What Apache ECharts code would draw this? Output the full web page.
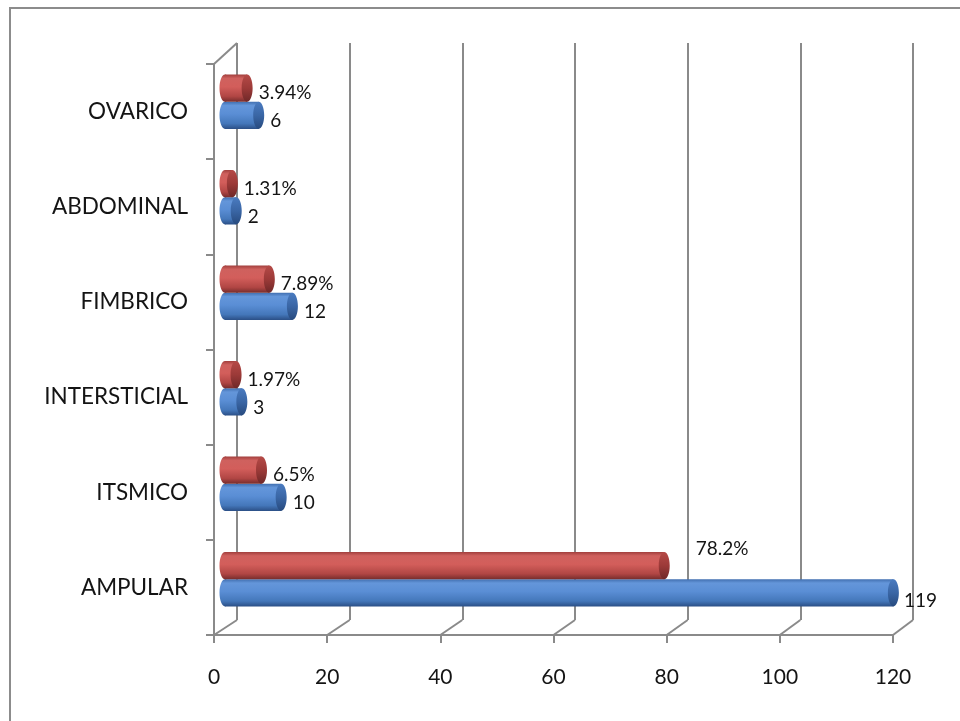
<!DOCTYPE html>
<html>
<head>
<meta charset="utf-8">
<title>Localización</title>
<script src="https://cdn.jsdelivr.net/npm/echarts@6/dist/echarts.min.js"></script>
<style>
  html, body { margin: 0; padding: 0; background: #ffffff; }
  #chart { width: 960px; height: 721px; }
</style>
</head>
<body>
<div id="chart"></div>
<script>
// Categories listed bottom to top on the vertical axis
const categories = ['AMPULAR', 'ITSMICO', 'INTERSTICIAL', 'FIMBRICO', 'ABDOMINAL', 'OVARICO'];
// Number of cases per location
const casos = [119, 10, 3, 12, 2, 6];
// Share of cases per location, in percent
const porcentajes = [78.2, 6.5, 1.97, 7.89, 1.31, 3.94];
// Value axis ticks
const xTicks = [0, 20, 40, 60, 80, 100, 120];

const AXIS_MIN = xTicks[0];
const AXIS_MAX = xTicks[xTicks.length - 1];
const AXIS_STEP = xTicks[1] - xTicks[0];

// Layout of the three planes of the pseudo-3D box
const FRONT = { left: 214, top: 64, width: 679, height: 571 };
const BACK = { left: 237, top: 43, width: 676, height: 577 };
const MID = { left: 225, top: 54, width: 674, height: 573 };

const GRID_COLOR = '#8a8a8a';
const TEXT_COLOR = '#141414';
const FONT = 'Lato, "Open Sans", sans-serif';

const BAR_RATIO = 0.285;   // bar thickness relative to a category band
const CAP_RX = 5.5;        // horizontal radius of the cylinder ends

const redBody = [
  [0, '#a23f3d'], [0.14, '#cf615e'], [0.45, '#d35e5b'], [0.8, '#b14644'], [1, '#772d2c']
];
const blueBody = [
  [0, '#416fb0'], [0.14, '#6496da'], [0.45, '#5a8ed5'], [0.8, '#4477ba'], [1, '#2b4f86']
];
const redCap = [[0, '#b54a47'], [0.5, '#9c3a38'], [1, '#6f2828']];
const blueCap = [[0, '#4a7bc0'], [0.5, '#3a66a5'], [1, '#274a7e']];

function grad(stops) {
  return new echarts.graphic.LinearGradient(0, 0, 0, 1,
    stops.map(s => ({ offset: s[0], color: s[1] })));
}

// Label shifts per series; the large percentage label sits up and to the right
const labelShift = {
  pct: (idx) => idx === 0 ? [26, -17] : [6, 5],
  cases: (idx) => idx === 0 ? [5, 8] : [6, 6]
};

function makeCylinder(side, body, cap, formatter, shift) {
  return function (params, api) {
    const v = api.value(0);
    const c = api.value(1);
    const start = api.coord([0, c]);
    const end = api.coord([v, c]);
    const band = api.size([0, 1])[1];
    const h = band * BAR_RATIO;
    const cy = start[1] + side * h / 2;
    const top = cy - h / 2;
    const s = shift(params.dataIndex);
    return {
      type: 'group',
      children: [
        { type: 'ellipse', shape: { cx: start[0], cy: cy, rx: CAP_RX, ry: h / 2 },
          style: { fill: grad(body) } },
        { type: 'rect', shape: { x: start[0], y: top, width: Math.max(end[0] - start[0], 0), height: h },
          style: { fill: grad(body) } },
        { type: 'ellipse', shape: { cx: end[0], cy: cy, rx: CAP_RX, ry: h / 2 },
          style: { fill: grad(cap) } },
        { type: 'text', x: end[0] + CAP_RX + s[0], y: cy + s[1],
          style: { text: formatter(v), font: '19px ' + FONT, fill: TEXT_COLOR,
                   verticalAlign: 'middle', align: 'left' } }
      ]
    };
  };
}

const chart = echarts.init(document.getElementById('chart'), null, { renderer: 'canvas' });

const hiddenAxis = { show: false };

chart.setOption({
  backgroundColor: '#ffffff',
  animation: false,
  grid: [
    Object.assign({ containLabel: false }, FRONT),
    Object.assign({ containLabel: false }, BACK),
    Object.assign({ containLabel: false }, MID)
  ],
  xAxis: [
    {
      gridIndex: 0, type: 'value', min: AXIS_MIN, max: AXIS_MAX, interval: AXIS_STEP,
      axisLine: { show: true, lineStyle: { color: GRID_COLOR, width: 2 } },
      axisTick: { show: true, length: 8, lineStyle: { color: GRID_COLOR, width: 2 } },
      axisLabel: { color: TEXT_COLOR, fontFamily: FONT, fontSize: 21, margin: 32 },
      splitLine: { show: false }
    },
    {
      gridIndex: 1, type: 'value', min: AXIS_MIN, max: AXIS_MAX, interval: AXIS_STEP,
      axisLine: { show: false }, axisTick: { show: false }, axisLabel: { show: false },
      splitLine: { show: true, lineStyle: { color: GRID_COLOR, width: 2 } }
    },
    Object.assign({ gridIndex: 2, type: 'value', min: AXIS_MIN, max: AXIS_MAX }, hiddenAxis)
  ],
  yAxis: [
    {
      gridIndex: 0, type: 'category', data: categories,
      axisLine: { show: true, lineStyle: { color: GRID_COLOR, width: 2 } },
      axisTick: { show: true, length: 8, lineStyle: { color: GRID_COLOR, width: 2 } },
      axisLabel: { color: TEXT_COLOR, fontFamily: FONT, fontSize: 22.5, margin: 26 },
      splitLine: { show: false }
    },
    Object.assign({ gridIndex: 1, type: 'category', data: categories }, hiddenAxis),
    Object.assign({ gridIndex: 2, type: 'category', data: categories }, hiddenAxis)
  ],
  series: [
    {
      name: 'Casos', type: 'custom', xAxisIndex: 2, yAxisIndex: 2, z: 5,
      encode: { x: 0, y: 1 },
      data: casos.map((v, i) => [v, i]),
      renderItem: makeCylinder(1, blueBody, blueCap, v => String(v), labelShift.cases)
    },
    {
      name: 'Porcentaje', type: 'custom', xAxisIndex: 2, yAxisIndex: 2, z: 5,
      encode: { x: 0, y: 1 },
      data: porcentajes.map((v, i) => [v, i]),
      renderItem: makeCylinder(-1, redBody, redCap, v => v + '%', labelShift.pct)
    }
  ]
});

// Depth edges joining the front plane to the back wall, placed from both value axes
const frontX = v => chart.convertToPixel({ xAxisIndex: 0 }, v);
const backX = v => chart.convertToPixel({ xAxisIndex: 1 }, v);
const frontBottom = FRONT.top + FRONT.height;
const backBottom = BACK.top + BACK.height;

const edgeStyle = { stroke: GRID_COLOR, lineWidth: 2 };
const edges = xTicks.map(v => ({
  type: 'line', z: 1,
  shape: { x1: frontX(v), y1: frontBottom, x2: backX(v), y2: backBottom },
  style: edgeStyle
}));
edges.push({
  type: 'line', z: 1,
  shape: { x1: frontX(AXIS_MIN), y1: FRONT.top, x2: backX(AXIS_MIN), y2: BACK.top },
  style: edgeStyle
});
// Outer frame of the chart area
edges.push({
  type: 'rect', z: 0,
  shape: { x: 10, y: 8, width: 1000, height: 800 },
  style: { fill: null, stroke: '#8c8c8c', lineWidth: 2 }
});

chart.setOption({ graphic: edges });
</script>
</body>
</html>
